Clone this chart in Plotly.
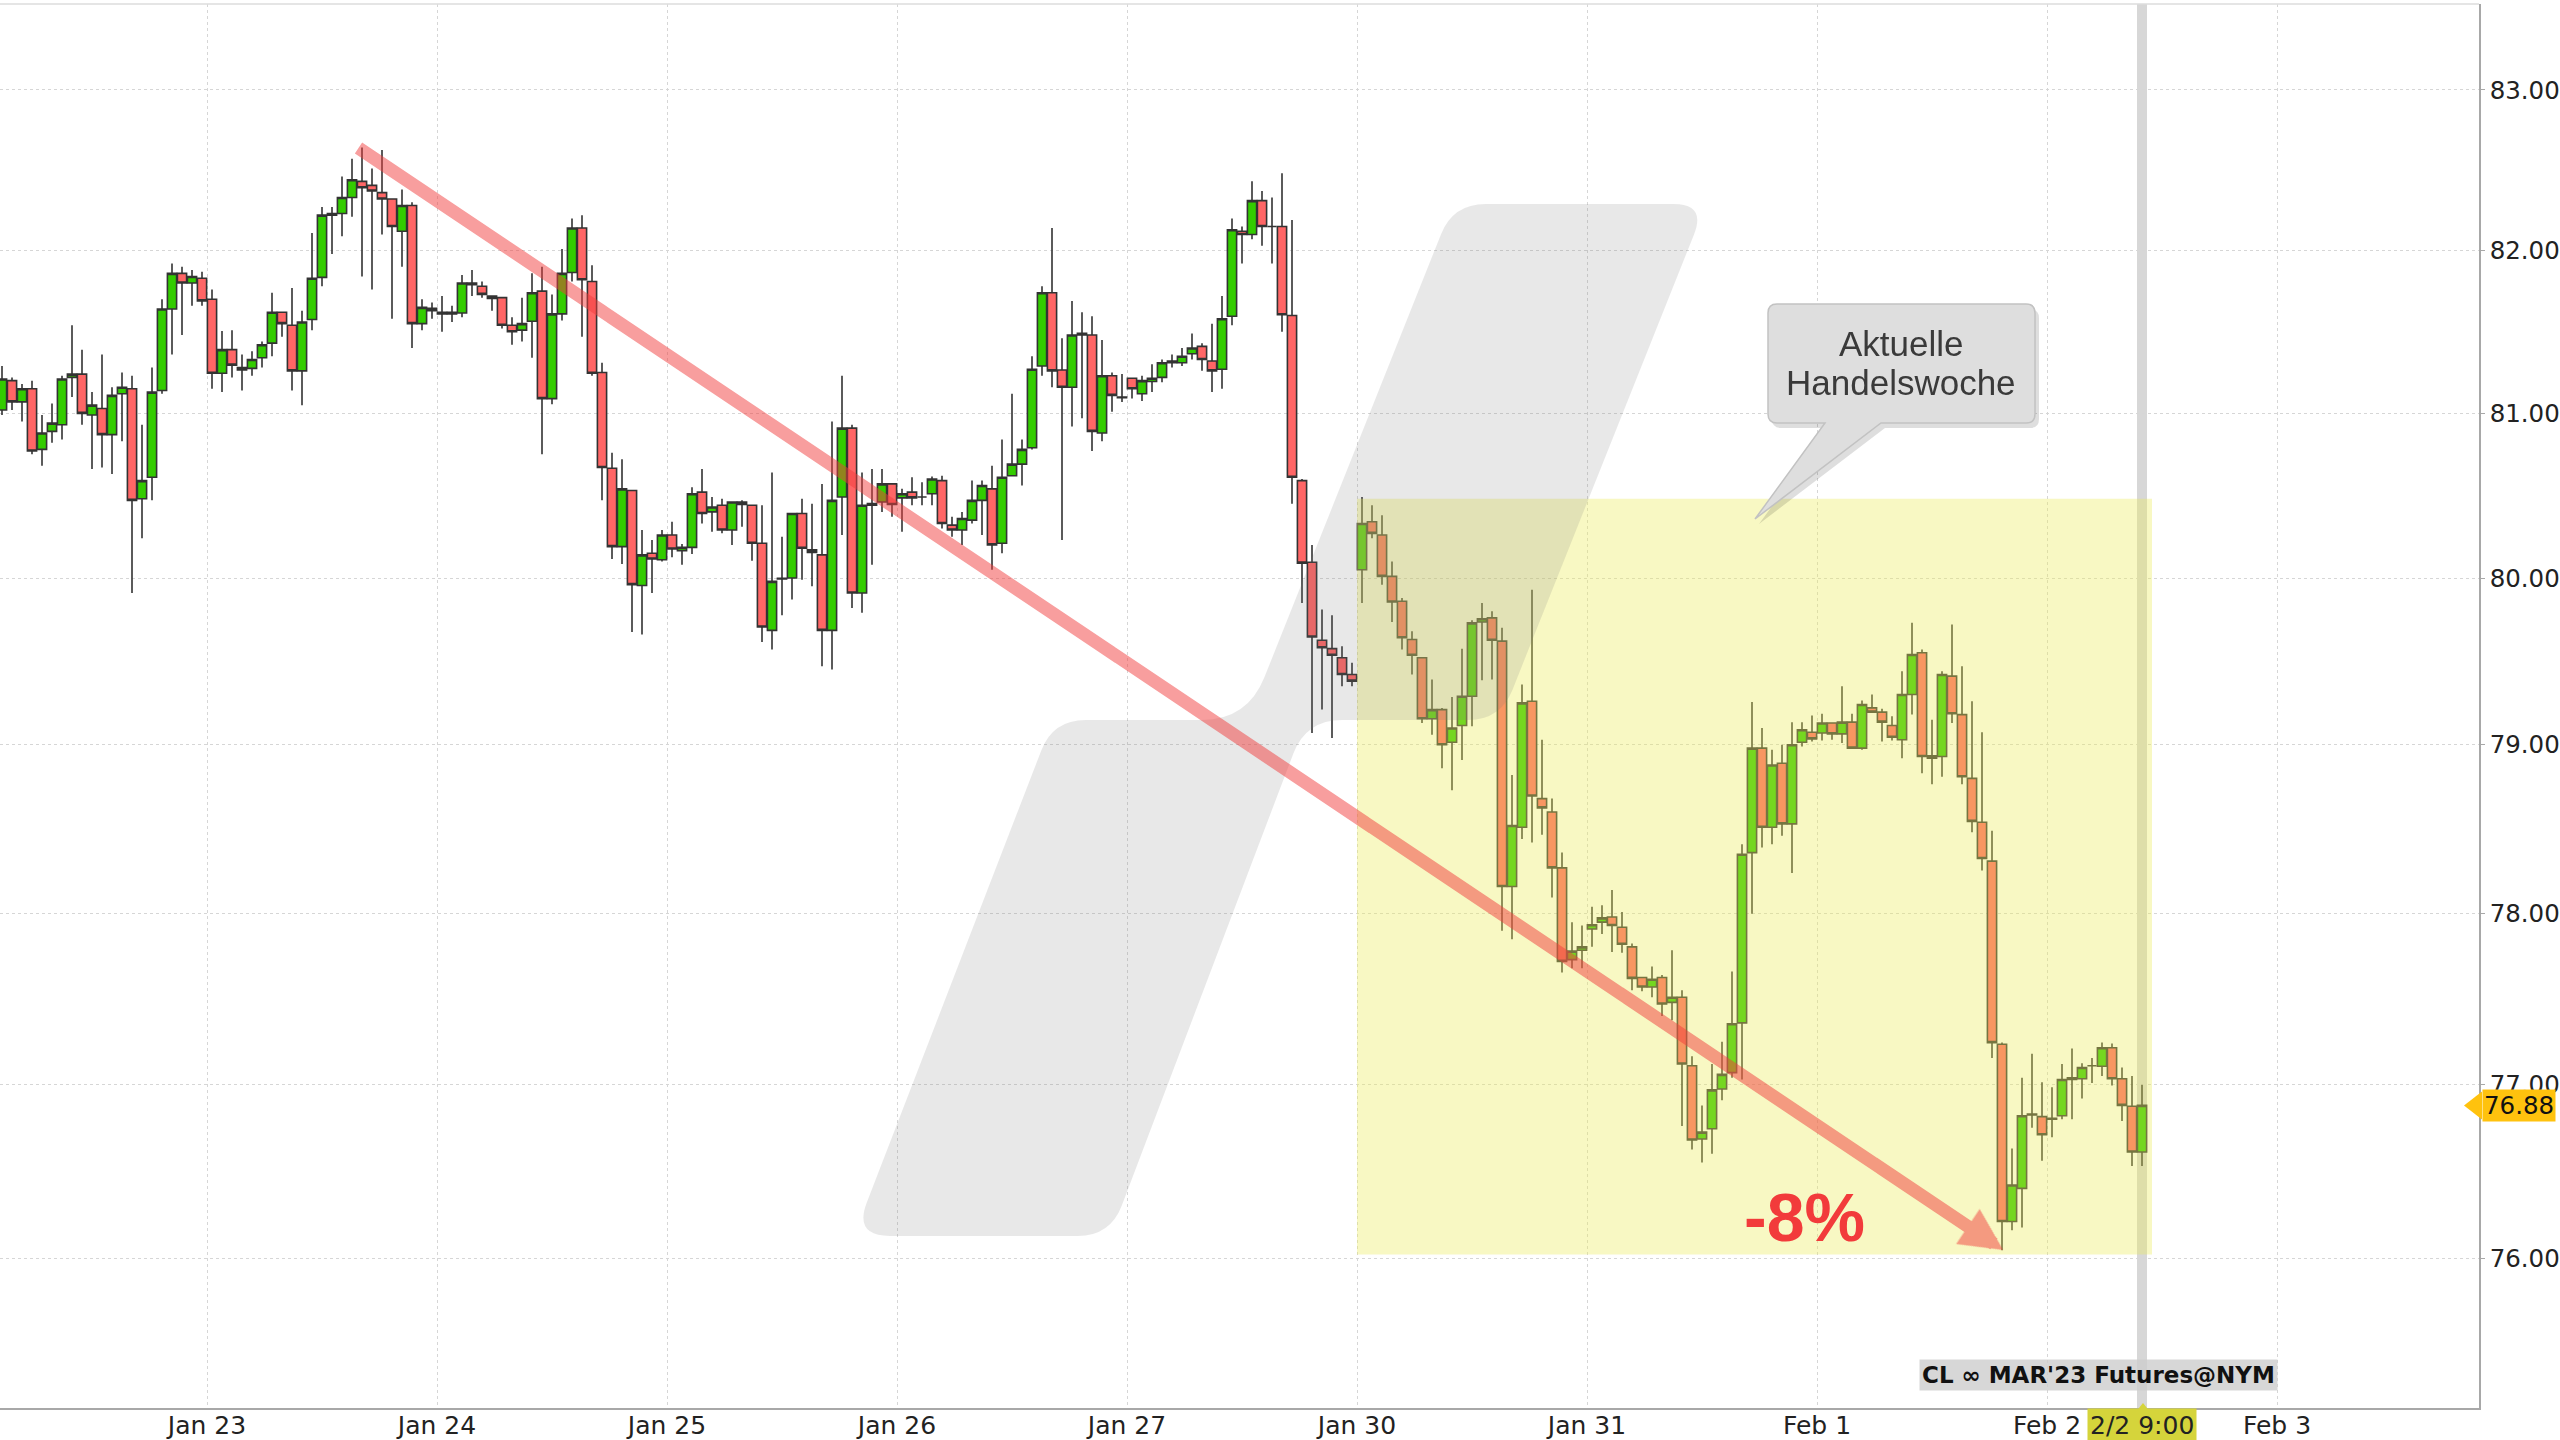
import math
import plotly.graph_objects as go

# ---------------- data (hourly CL futures candles, CET sessions 0:00-22:00) ----------------
day_labels = ["Jan 20", "Jan 23", "Jan 24", "Jan 25", "Jan 26", "Jan 27",
              "Jan 30", "Jan 31", "Feb 1", "Feb 2", "Feb 3"]
first_hour = 2          # first visible candle on Jan 20
last_day_hours = 10     # Feb 2 candles 0:00 .. 9:00

opens = [
    # Jan 20
    81.02, 81.20, 81.07, 81.15, 80.78, 80.89, 80.93, 81.22, 81.24, 80.99, 81.03, 80.87, 81.12, 81.15, 80.48, 80.61, 81.14, 81.64, 81.86, 81.80, 81.83,
    # Jan 23
    81.70, 81.245, 81.39, 81.28, 81.275, 81.34, 81.43, 81.62, 81.54, 81.26, 81.575, 81.835, 82.22, 82.23, 82.33, 82.43, 82.405, 82.36, 82.32, 82.12, 82.28, 81.55, 81.645,
    # Jan 24
    81.62, 81.61, 81.615, 81.80, 81.78, 81.72, 81.71, 81.54, 81.51, 81.565, 81.75, 81.09, 81.61, 81.865, 82.14, 81.81, 81.25, 80.665, 80.19, 80.53, 79.955, 80.15, 80.11,
    # Jan 25
    80.26, 80.165, 80.185, 80.52, 80.40, 80.44, 80.29, 80.46, 80.44, 80.21, 79.685, 79.998, 80.0, 80.39, 80.17, 80.14, 79.685, 80.49, 80.91, 79.91, 80.44, 80.46, 80.57,
    # Jan 26
    80.485, 80.52, 80.49, 80.51, 80.59, 80.32, 80.29, 80.35, 80.47, 80.54, 80.21, 80.62, 80.69, 80.79, 81.29, 81.74, 81.265, 81.16, 81.48, 81.48, 80.88, 81.23, 81.095,
    # Jan 27
    81.215, 81.12, 81.195, 81.22, 81.31, 81.31, 81.365, 81.41, 81.32, 81.27, 81.595, 82.12, 82.10, 82.31, 82.15, 82.15, 81.60, 80.59, 80.095, 79.625, 79.575, 79.52, 79.42,
    # Jan 30
    80.05, 80.34, 80.26, 80.01, 79.86, 79.63, 79.52, 79.155, 79.21, 79.015, 79.115, 79.29, 79.735, 79.76, 79.62, 78.16, 78.51, 79.26, 78.68, 78.60, 78.27, 77.73, 77.785,
    # Jan 31
    77.91, 77.95, 77.98, 77.92, 77.805, 77.625, 77.57, 77.625, 77.48, 77.51, 77.11, 76.685, 76.745, 76.975, 77.07, 77.36, 78.36, 78.98, 78.51, 78.89, 78.53, 79.015, 79.075,
    # Feb 1
    79.07, 79.13, 79.065, 79.135, 78.98, 79.22, 79.195, 79.115, 79.03, 79.30, 79.55, 78.935, 78.93, 79.41, 79.18, 78.80, 78.54, 78.31, 77.235, 76.21, 76.40, 76.83, 76.815,
    # Feb 2
    76.80, 76.82, 77.03, 77.035, 77.11, 77.107, 77.215, 77.035, 76.875, 76.61,
]
highs = [
    81.29, 81.22, 81.18, 81.20, 80.99, 81.06, 81.23, 81.54, 81.39, 81.13, 81.36, 81.16, 81.25, 81.23, 80.93, 81.28, 81.70, 81.92, 81.90, 81.88, 81.87,
    81.76, 81.505, 81.51, 81.36, 81.38, 81.44, 81.74, 81.62, 81.77, 81.63, 82.11, 82.27, 82.27, 82.46, 82.57, 82.64, 82.51, 82.625, 82.32, 82.38, 82.30, 81.70, 81.68,
    81.72, 81.66, 81.85, 81.88, 81.81, 81.72, 81.71, 81.59, 81.71, 81.86, 81.90, 81.73, 82.01, 82.20, 82.22, 81.91, 81.31, 80.76, 80.72, 80.53, 80.29, 80.23, 80.29,
    80.34, 80.205, 80.55, 80.66, 80.49, 80.48, 80.465, 80.47, 80.44, 80.44, 80.64, 80.25, 80.395, 80.48, 80.45, 80.57, 80.95, 81.23, 80.93, 80.64, 80.66, 80.66, 80.57,
    80.54, 80.61, 80.58, 80.615, 80.62, 80.37, 80.40, 80.59, 80.59, 80.68, 80.84, 81.12, 80.84, 81.35, 81.78, 82.14, 81.46, 81.69, 81.62, 81.595, 81.45, 81.25, 81.24,
    81.215, 81.23, 81.30, 81.33, 81.36, 81.40, 81.49, 81.43, 81.55, 81.72, 82.20, 82.15, 82.43, 82.37, 82.33, 82.48, 82.19, 80.60, 80.20, 79.81, 79.775, 79.59, 79.49,
    80.49, 80.44, 80.38, 80.10, 79.88, 79.68, 79.52, 79.39, 79.22, 79.285, 79.575, 79.745, 79.85, 79.80, 79.70, 78.82, 79.36, 79.93, 79.03, 78.68, 78.36, 77.95, 77.93,
    78.04, 78.05, 78.14, 78.01, 77.825, 77.625, 77.69, 77.64, 77.785, 77.55, 77.165, 76.88, 77.12, 77.25, 77.66, 78.41, 79.255, 79.10, 78.97, 79.0, 79.135, 79.135, 79.175,
    79.185, 79.135, 79.35, 79.185, 79.265, 79.30, 79.215, 79.17, 79.44, 79.73, 79.57, 79.15, 79.44, 79.72, 79.47, 79.26, 79.075, 78.49, 77.245, 76.63, 77.04, 77.18, 77.015,
    76.985, 77.12, 77.21, 77.125, 77.155, 77.245, 77.24, 77.10, 77.05, 77.0,
]
lows = [
    80.99, 81.02, 80.95, 80.75, 80.68, 80.82, 80.84, 81.10, 80.93, 80.66, 80.67, 80.63, 80.83, 79.91, 80.24, 80.47, 81.12, 81.36, 81.48, 81.66, 81.66,
    81.15, 81.13, 81.22, 81.14, 81.23, 81.28, 81.35, 81.47, 81.14, 81.05, 81.51, 81.78, 81.98, 82.09, 82.21, 81.84, 81.76, 82.10, 81.58, 81.90, 81.40, 81.51, 81.58,
    81.50, 81.56, 81.59, 81.72, 81.71, 81.63, 81.52, 81.42, 81.44, 81.34, 80.75, 81.055, 81.57, 81.81, 81.47, 81.23, 80.47, 80.115, 80.085, 79.675, 79.66, 79.91, 80.10,
    80.125, 80.08, 80.145, 80.33, 80.28, 80.27, 80.20, 80.31, 80.105, 79.615, 79.57, 79.775, 79.87, 79.99, 79.95, 79.47, 79.45, 80.26, 79.82, 79.79, 80.08, 80.40, 80.37,
    80.28, 80.44, 80.44, 80.44, 80.30, 80.25, 80.20, 80.33, 80.26, 80.05, 80.15, 80.62, 80.56, 80.78, 81.23, 81.16, 80.23, 80.92, 80.97, 80.77, 80.83, 81.01, 81.07,
    81.09, 81.075, 81.13, 81.19, 81.28, 81.29, 81.33, 81.26, 81.13, 81.15, 81.54, 81.92, 82.07, 82.03, 81.92, 81.50, 80.45, 79.85, 79.07, 79.21, 79.04, 79.35, 79.35,
    79.85, 80.24, 79.96, 79.735, 79.57, 79.42, 79.13, 79.06, 78.86, 78.73, 78.91, 79.11, 79.385, 79.39, 77.90, 77.85, 78.44, 78.42, 78.465, 78.095, 77.655, 77.68, 77.68,
    77.805, 77.88, 77.775, 77.77, 77.55, 77.545, 77.51, 77.40, 77.375, 76.76, 76.625, 76.55, 76.60, 76.91, 77.04, 77.03, 78.0, 78.39, 78.41, 78.46, 78.24, 78.99, 79.02,
    79.025, 79.03, 79.01, 78.98, 78.97, 79.195, 79.02, 79.025, 78.92, 79.18, 78.83, 78.765, 78.81, 79.13, 78.765, 78.48, 78.255, 77.155, 76.045, 76.16, 76.175, 76.75, 76.56,
    76.695, 76.80, 76.80, 76.92, 77.01, 77.05, 76.995, 76.79, 76.53, 76.53,
]
closes = [
    81.21, 81.07, 81.15, 80.77, 80.88, 80.94, 81.21, 81.24, 81.00, 81.05, 80.87, 81.11, 81.16, 80.47, 80.59, 81.13, 81.64, 81.86, 81.80, 81.84, 81.69,
    81.245, 81.39, 81.295, 81.265, 81.33, 81.42, 81.62, 81.55, 81.26, 81.56, 81.83, 82.22, 82.23, 82.33, 82.44, 82.39, 82.37, 82.32, 82.15, 82.28, 81.55, 81.65, 81.63,
    81.61, 81.62, 81.80, 81.79, 81.73, 81.705, 81.54, 81.50, 81.55, 81.74, 81.09, 81.61, 81.86, 82.14, 81.82, 81.245, 80.67, 80.19, 80.54, 79.96, 80.14, 80.115, 80.26,
    80.175, 80.185, 80.51, 80.39, 80.43, 80.29, 80.46, 80.445, 80.21, 79.705, 79.98, 79.995, 80.39, 80.18, 80.155, 79.685, 80.47, 80.91, 79.91, 80.44, 80.45, 80.57, 80.445,
    80.51, 80.485, 80.49, 80.60, 80.33, 80.29, 80.36, 80.47, 80.56, 80.20, 80.61, 80.69, 80.78, 81.27, 81.74, 81.26, 81.16, 81.48, 81.49, 80.89, 81.23, 81.11, 81.10,
    81.15, 81.20, 81.215, 81.31, 81.32, 81.35, 81.40, 81.33, 81.26, 81.58, 82.13, 82.10, 82.31, 82.15, 82.15, 81.605, 80.61, 80.09, 79.645, 79.58, 79.535, 79.42, 79.38,
    80.33, 80.27, 80.01, 79.855, 79.64, 79.535, 79.155, 79.21, 79.0, 79.10, 79.29, 79.73, 79.755, 79.625, 78.16, 78.52, 79.25, 78.695, 78.625, 78.27, 77.72, 77.78, 77.805,
    77.935, 77.975, 77.93, 77.82, 77.62, 77.57, 77.615, 77.47, 77.51, 77.12, 76.68, 76.725, 76.97, 77.06, 77.355, 78.35, 78.98, 78.51, 78.88, 78.53, 79.0, 79.09, 79.035,
    79.13, 79.065, 79.135, 78.98, 79.24, 79.195, 79.135, 79.045, 79.30, 79.54, 78.93, 78.92, 79.42, 79.185, 78.81, 78.545, 78.325, 77.245, 76.21, 76.42, 76.82, 76.825, 76.71,
    76.805, 77.03, 77.04, 77.10, 77.11, 77.215, 77.035, 76.88, 76.61, 76.88,
]
price_ticks = [76, 77, 78, 79, 80, 81, 82, 83]
last_price = 76.88
week_box_low, week_box_high = 76.02, 80.48
symbol_label = "CL \u221e MAR'23 Futures@NYM"
cursor_label = "2/2 9:00"
callout_lines = ["Aktuelle", "Handelswoche"]
change_label = "-8%"

# ---------------- time positions (23 hourly slots per session day) ----------------
SLOTS = 23
xs = []
for d in range(len(day_labels) - 1):
    if d == 0:
        hours = range(first_hour, SLOTS)
    elif d == len(day_labels) - 2:
        hours = range(0, last_day_hours)
    else:
        hours = range(0, SLOTS)
    for h in hours:
        xs.append(d * SLOTS + h + 0.5)
assert len(xs) == len(opens) == len(highs) == len(lows) == len(closes)
tickvals = [d * SLOTS for d in range(1, len(day_labels))]
ticktext = day_labels[1:]

# ---------------- geometry helpers ----------------
W, H = 2560, 1440
PL, PR, PT, PB = 0, 2479, 4, 1408
S = 2560 / 1568.0
Y_LO, Y_HI = 1.875900, 1.921895
X_LO, X_HI = 2.3, 250.2


def pxp(xf):
    return (xf - PL) / (PR - PL)


def pyp(yf):
    return (PB - yf) / (PB - PT)


def price_to_py(p):
    return (math.log10(p) - Y_LO) / (Y_HI - Y_LO)


def path_from(points, radii, conv):
    n = len(points)
    out = []

    def toward(a, b, r):
        dx, dy = b[0] - a[0], b[1] - a[1]
        d = math.hypot(dx, dy)
        return (a[0] + dx * r / d, a[1] + dy * r / d)

    for i in range(n):
        P, V, N = points[i - 1], points[i], points[(i + 1) % n]
        r = radii[i]
        if r > 0:
            a = toward(V, P, r)
            b = toward(V, N, r)
            out.append(("L", a))
            out.append(("Q", V, b))
        else:
            out.append(("L", V))

    def c(pt):
        x, y = conv(pt)
        return f"{x:.5f},{y:.5f}"

    s = ""
    for k, seg in enumerate(out):
        if seg[0] == "L":
            s += ("M" if k == 0 else " L") + c(seg[1])
        else:
            s += " Q" + c(seg[1]) + " " + c(seg[2])
    return s + " Z"


def disp_conv(pt):
    return (pxp(pt[0] * S), pyp(pt[1] * S))


def full_conv(pt):
    return (pxp(pt[0]), pyp(pt[1]))


# ---------------- figure ----------------
fig = go.Figure()
fig.add_trace(go.Candlestick(
    x=xs, open=opens, high=highs, low=lows, close=closes,
    increasing=dict(fillcolor="#33cc00", line=dict(color="#333333", width=1.6)),
    decreasing=dict(fillcolor="#ff6666", line=dict(color="#333333", width=1.6)),
    whiskerwidth=0, hoverinfo="skip", showlegend=False,
))

shapes = []
# current-time band
shapes.append(dict(type="rect", xref="x", yref="paper", x0=xs[-1] - 0.5, x1=xs[-1] + 0.5,
                   y0=-0.004, y1=1, fillcolor="rgba(110,110,110,0.28)", line=dict(width=0),
                   layer="below"))
# highlighted current week
shapes.append(dict(type="rect", xref="x", yref="paper", x0=6 * SLOTS, x1=xs[-1] + 1.0,
                   y0=price_to_py(week_box_low), y1=price_to_py(week_box_high),
                   fillcolor="rgba(236,236,90,0.36)", line=dict(width=0), layer="above"))
# watermark logo
logo_pts = [(523, 757), (645, 441), (764, 441), (890, 125), (1045, 125),
            (919, 441), (800, 441), (680, 757)]
logo_r = [22, 20, 28, 20, 20, 20, 22, 20]
shapes.append(dict(type="path", xref="paper", yref="paper",
                   path=path_from(logo_pts, logo_r, disp_conv),
                   fillcolor="rgba(120,120,120,0.17)", line=dict(width=0), layer="above"))
# callout bubble (shadow + body)
cb = [(1768, 304), (2035, 304), (2035, 423), (1881, 423), (1755, 519), (1825, 423), (1768, 423)]
cr = [9, 9, 9, 0, 0, 0, 9]
shadow = [(x + 4, y + 5) for x, y in cb]
shapes.append(dict(type="path", xref="paper", yref="paper", path=path_from(shadow, cr, full_conv),
                   fillcolor="rgba(0,0,0,0.13)", line=dict(width=0), layer="above"))
shapes.append(dict(type="path", xref="paper", yref="paper", path=path_from(cb, cr, full_conv),
                   fillcolor="#dedede", line=dict(color="#c2c2c2", width=1.5), layer="above"))
# top border
shapes.append(dict(type="line", xref="paper", yref="paper", x0=0, x1=1, y0=1, y1=1,
                   line=dict(color="#dcdcdc", width=1.5), layer="above"))
# last-price tag pointer
ty = price_to_py(last_price)
tri_path = "M{:.5f},{:.5f} L{:.5f},{:.5f} L{:.5f},{:.5f} Z".format(
    pxp(2464), ty, pxp(2482), ty + 14 / (PB - PT), pxp(2482), ty - 14 / (PB - PT))
shapes.append(dict(type="path", xref="paper", yref="paper", path=tri_path,
                   fillcolor="#ffc20e", line=dict(width=0), layer="above"))
# cursor label pointer
cur_path = "M{:.5f},{:.5f} L{:.5f},{:.5f} L{:.5f},{:.5f} Z".format(
    pxp(2143), pyp(1403), pxp(2135), pyp(1413), pxp(2151), pyp(1413))
shapes.append(dict(type="path", xref="paper", yref="paper", path=cur_path,
                   fillcolor="#d5d43b", line=dict(width=0), layer="above"))

annotations = []
# trend arrow
annotations.append(dict(xref="paper", yref="paper", x=pxp(2003), y=pyp(1250), text="",
                        showarrow=True, axref="pixel", ayref="pixel", ax=357 - 2003, ay=147 - 1250,
                        arrowhead=2, arrowsize=0.65, arrowwidth=13,
                        arrowcolor="rgba(240,60,60,0.5)"))
annotations.append(dict(xref="paper", yref="paper", x=pxp(1804), y=pyp(1217),
                        text="<b>" + change_label + "</b>", showarrow=False,
                        font=dict(family="Liberation Sans, Arial", size=68, color="#f23b3b"),
                        xanchor="center", yanchor="middle"))
annotations.append(dict(xref="paper", yref="paper", x=pxp(1901), y=pyp(343), text=callout_lines[0],
                        showarrow=False, font=dict(family="Liberation Sans, Arial", size=35, color="#3a3a3a"),
                        xanchor="center", yanchor="middle"))
annotations.append(dict(xref="paper", yref="paper", x=pxp(1901), y=pyp(382), text=callout_lines[1],
                        showarrow=False, font=dict(family="Liberation Sans, Arial", size=35, color="#3a3a3a"),
                        xanchor="center", yanchor="middle"))
annotations.append(dict(xref="paper", yref="paper", x=pxp(2098), y=pyp(1375),
                        text="<b>" + symbol_label + "</b>", showarrow=False,
                        font=dict(family="DejaVu Sans", size=23, color="#111111"),
                        bgcolor="rgba(205,205,205,0.8)", borderpad=2,
                        xanchor="center", yanchor="middle"))
annotations.append(dict(xref="x", yref="paper", x=xs[-1], y=pyp(1425), text=cursor_label,
                        showarrow=False, font=dict(family="DejaVu Sans", size=25, color="#222222"),
                        bgcolor="#d5d43b", borderpad=2, xanchor="center", yanchor="middle"))
annotations.append(dict(xref="paper", yref="paper", x=pxp(2482), y=ty, text=f"{last_price:.2f}",
                        showarrow=False, font=dict(family="DejaVu Sans", size=24.5, color="#111111"),
                        bgcolor="#ffc20e", borderpad=1, xanchor="left", yanchor="middle"))

fig.update_layout(
    width=W, height=H, autosize=False,
    margin=dict(l=PL, r=W - PR, t=PT, b=H - PB, pad=0, autoexpand=False),
    paper_bgcolor="white", plot_bgcolor="white",
    showlegend=False, boxgap=0.08, boxgroupgap=0,
    shapes=shapes, annotations=annotations,
    xaxis=dict(type="linear", range=[X_LO, X_HI], tickvals=tickvals, ticktext=ticktext,
               showgrid=True, gridcolor="#d6d6d6", griddash="dot", gridwidth=1,
               zeroline=False, showline=True, linecolor="#a8a8a8", linewidth=1.5,
               ticks="", tickfont=dict(family="DejaVu Sans", size=25, color="#222222"),
               ticklabelstandoff=-6,
               rangeslider=dict(visible=False), fixedrange=True, automargin=False),
    yaxis=dict(type="log", side="right", range=[Y_LO, Y_HI],
               tickvals=price_ticks, ticktext=[f"{v:.2f}" for v in price_ticks],
               showgrid=True, gridcolor="#d6d6d6", griddash="dot", gridwidth=1,
               zeroline=False, showline=True, linecolor="#a8a8a8", linewidth=1.5,
               ticks="outside", ticklen=4, tickcolor="#a8a8a8",
               tickfont=dict(family="DejaVu Sans", size=24.5, color="#222222"),
               fixedrange=True, automargin=False),
)

fig.write_html("out.html", config={"displayModeBar": False},
               post_script="document.body.style.margin='0px';document.body.style.overflow='hidden';")
